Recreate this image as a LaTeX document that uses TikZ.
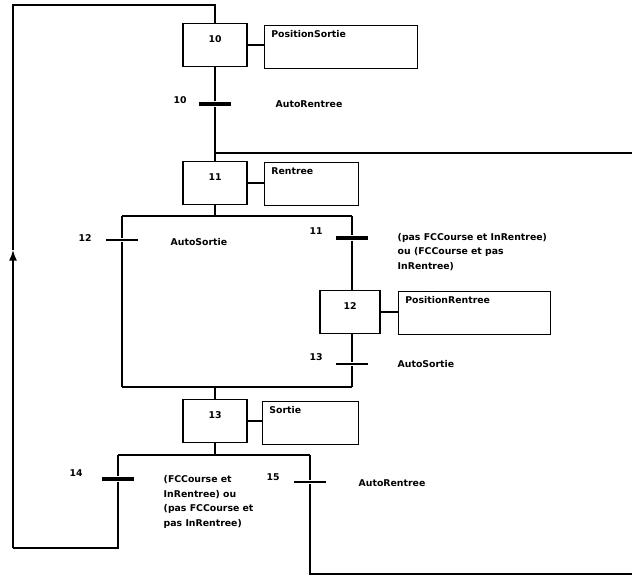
\documentclass[tikz,border=0pt]{standalone}
\usepackage{fontspec}
\setmainfont{DejaVu Sans}
\usetikzlibrary{arrows.meta}

\newcommand\grafsize{\bfseries\fontsize{7}{11}\selectfont}

\tikzset{
  etape/.style={draw, minimum width=48pt, minimum height=32pt, inner sep=0pt,
    text height=6pt, text depth=10pt, font=\grafsize},
  action/.style={draw, minimum height=32pt, anchor=north west, align=left,
    inner xsep=5pt, inner ysep=0pt, text height=6pt, text depth=20pt, font=\grafsize},
  trans/.style={fill, minimum width=24pt, minimum height=3pt, inner sep=0pt},
  num/.style={font=\grafsize, inner sep=0pt},
  recept/.style={font=\grafsize, anchor=west, align=left, inner sep=0pt},
}

\begin{document}
\begin{tikzpicture}[x=0.75pt, y=-0.75pt, line width=1.1pt]

  \newcommand\Xm{215};
  \newcommand\Xg{122};
  \newcommand\Xd{352};

  \useasboundingbox (0,0) rectangle (632,577);

  %% etapes
  \node[etape] (e10) at (\Xm,45) {10};
  \node[etape] (e11) at (\Xm,183) {11};
  \node[etape, minimum width=45pt] (e12) at (350,312) {12};
  \node[etape] (e13) at (\Xm,421) {13};

  %% actions
  \node[action, text width=104.75pt] (a10) at (264,25) {PositionSortie};
  \node[action, text width=60.5pt] (a11) at (264,162) {Rentree};
  \node[action, text width=104pt] (a12) at (398,291) {PositionRentree};
  \node[action, text width=62pt] (a13) at (262,401) {Sortie};

  \draw (e10.east) -- (e10.east -| a10.west);
  \draw (e11.east) -- (e11.east -| a11.west);
  \draw (e12.east) -- (e12.east -| a12.west);
  \draw (e13.east) -- (e13.east -| a13.west);

  %% transitions
  \node[trans] (t10) at (\Xm,104) {};
  \node[trans, minimum height=2.2pt] (t12) at (\Xg,240) {};
  \node[trans] (t11) at (\Xd,238) {};
  \node[trans, minimum height=2.2pt] (t13) at (\Xd,364) {};
  \node[trans] (t14) at (118,479) {};
  \node[trans, minimum height=2.2pt] (t15) at (310,482) {};

  \node[num] (n10) at (180,100) {10};
  \node[num] (n12) at (85,238) {12};
  \node[num] (n11) at (316,231) {11};
  \node[num] (n13) at (316,357) {13};
  \node[num] (n14) at (76,473) {14};
  \node[num] (n15) at (273,477) {15};

  \node[recept] (r10) at (275,104) {AutoRentree};
  \node[recept] (r12) at (170,242) {AutoSortie};
  \node[recept] (r11) at (397,252)
  {(pas FCCourse et InRentree)\\ou (FCCourse et pas\\InRentree)};
  \node[recept] (r13) at (397,364) {AutoSortie};
  \node[recept] (r14) at (163,502)
  {(FCCourse et\\InRentree) ou\\(pas FCCourse et\\pas InRentree)};
  \node[recept] (r15) at (358,483) {AutoRentree};

  %% liaisons
  \coordinate (d11g) at (\Xg,216);
  \coordinate (d11d) at (\Xd,216);
  \coordinate (c12g) at (\Xg,387);
  \coordinate (c12d) at (\Xd,387);
  \coordinate (d13g) at (118,455);
  \coordinate (d13d) at (310,455);
  \coordinate (b14) at (118,548);
  \coordinate (g14) at (13,548);
  \coordinate (fl) at (13,250);
  \coordinate (hg) at (13,5);
  \coordinate (b15) at (310,574);
  \coordinate (f15) at (632,574);
  \coordinate (f11) at (632,153);

  \draw (e10) -- (t10) -- (e11); %% 10 -> 11
  \draw (e11) -- (e11 |- d11g);
  \draw (d11g) -- (d11d);
  \draw (d11g) -- (t12) -- (c12g); %% 11 -> 13
  \draw (d11d) -- (t11) -- (t11 |- e12.north); %% 11 -> 12
  \draw (t13 |- e12.south) -- (t13) -- (c12d); %% 12 -> 13
  \draw (c12g) -- (c12d);
  \draw (e13 |- c12g) -- (e13);

  \draw (e13) -- (e13 |- d13g);
  \draw (d13g) -- (d13d);
  \draw (d13g) -- (t14) -- (b14) -- (g14); %% 13 -> 10
  \draw[-{Latex[length=8pt, width=6pt]}] (g14) -- (fl);
  \draw (fl) -- (hg) -- (hg -| e10) -- (e10);
  \draw (d13d) -- (t15) -- (b15) -- (f15); %% 13 -> 11
  \draw (f11) -- (f11 -| e11);

\end{tikzpicture}
\end{document}
